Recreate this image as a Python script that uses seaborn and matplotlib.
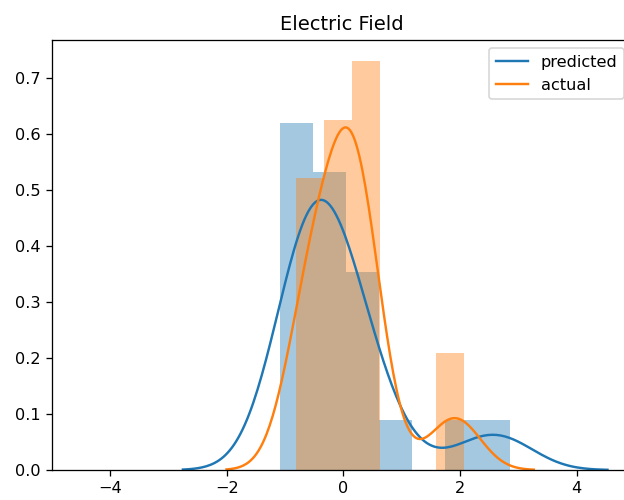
import numpy as np
import pandas as pd
import seaborn as sns
import matplotlib
matplotlib.use("Agg")
import matplotlib.pyplot as plt

# samples estimated from the histogram counts / kde shape
predicted = [-1.09, -0.95, -0.84, -0.74, -0.66, -0.6, -0.55,
             -0.5, -0.42, -0.34, -0.26, -0.18, -0.08,
             0.08, 0.15, 0.25, 0.4,
             0.8, 2.28, 2.865]
actual = [-0.81, -0.72, -0.62, -0.52, -0.42,
          -0.32, -0.22, -0.12, -0.02, 0.06, 0.13,
          0.16, 0.19, 0.24, 0.3, 0.36, 0.42, 0.5,
          1.75, 2.07]
pred_bins = 7
act_bins = 6

DPI = 116
fig = plt.figure(figsize=(624 / DPI, 500 / DPI), dpi=DPI)
ax = fig.add_axes([52 / 624, 30 / 500, 580 / 624, 430 / 500])

# histograms (density, alpha like distplot)
sns.histplot(x=predicted, bins=pred_bins, stat="density", color="tab:blue",
             alpha=0.4, linewidth=0, ax=ax)
sns.histplot(x=actual, bins=act_bins, stat="density", color="tab:orange",
             alpha=0.4, linewidth=0, ax=ax)

# kde lines
sns.kdeplot(x=predicted, color="tab:blue", label="predicted", ax=ax)
sns.kdeplot(x=actual, color="tab:orange", label="actual", ax=ax)

ax.set_xlim(-5.0, 4.95)
ax.set_ylim(0, 0.767)
ax.set_ylabel("")
ax.set_title("Electric Field")
ax.legend(loc="upper right")

fig.savefig("out.png", dpi=DPI)
